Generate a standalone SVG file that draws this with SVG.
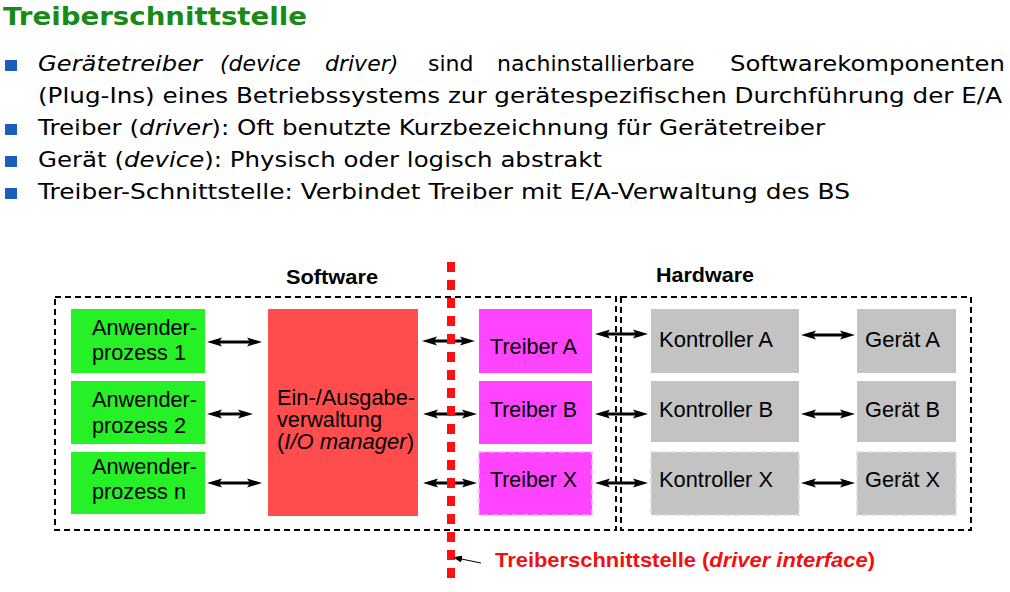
<svg xmlns="http://www.w3.org/2000/svg" width="1010" height="592" viewBox="0 0 1010 592">
<style>
.title{font-family:"DejaVu Sans",Verdana,sans-serif;font-weight:bold;font-size:24px;fill:#178a17}
.body{font-family:"DejaVu Sans",Verdana,sans-serif;font-size:22px;fill:#000}
.it{font-style:italic}
.bul{fill:#1b5dbd}
.dg{font-family:"Liberation Sans",Arial,sans-serif;font-size:21.5px;fill:#000}
.hd{font-family:"Liberation Sans",Arial,sans-serif;font-size:21px;font-weight:bold;fill:#000}
.frame{fill:none;stroke:#000;stroke-width:2;stroke-dasharray:6 4}
.app{fill:#26f026}
.io{fill:#ff4d4d}
.drv{fill:#ff44ff}
.hw{fill:#c3c3c3}
.conn line{stroke:#000;stroke-width:3}
.lbl{font-family:"Liberation Sans",Arial,sans-serif;font-size:21px;font-weight:bold;fill:#f01010}
</style>
<defs>
<marker id="ah" markerUnits="userSpaceOnUse" markerWidth="15" markerHeight="11" refX="7" refY="5.5" orient="auto-start-reverse">
<path d="M0,1 L15,5.5 L0,10 L3,5.5 z" fill="#000"/>
</marker>
<marker id="sah" markerUnits="userSpaceOnUse" markerWidth="9" markerHeight="7" refX="8" refY="3.5" orient="auto">
<path d="M0,0 L9,3.5 L0,7 z" fill="#000"/>
</marker>
</defs>
<rect width="1010" height="592" fill="#fff"/>

<text class="title" x="3" y="25" textLength="304" lengthAdjust="spacingAndGlyphs">Treiberschnittstelle</text>

<g id="bullets">
<rect class="bul" x="5" y="60" width="12" height="11"/>
<rect class="bul" x="5" y="124" width="12" height="11"/>
<rect class="bul" x="5" y="156" width="12" height="11"/>
<rect class="bul" x="5" y="188" width="12" height="11"/>
<text class="body it" x="38" y="71" textLength="164" lengthAdjust="spacingAndGlyphs">Gerätetreiber</text>
<text class="body it" x="220" y="71">(device</text>
<text class="body it" x="325" y="71">driver)</text>
<text class="body" x="428" y="71">sind</text>
<text class="body" x="497" y="71">nachinstallierbare</text>
<text class="body" x="730" y="71" textLength="275" lengthAdjust="spacingAndGlyphs">Softwarekomponenten</text>
<text class="body" x="38" y="103" textLength="964" lengthAdjust="spacingAndGlyphs">(Plug-Ins) eines Betriebssystems zur gerätespezifischen Durchführung der E/A</text>
<text class="body" x="38" y="135" textLength="787" lengthAdjust="spacingAndGlyphs">Treiber (<tspan class="it">driver</tspan>): Oft benutzte Kurzbezeichnung für Gerätetreiber</text>
<text class="body" x="38" y="167" textLength="564" lengthAdjust="spacingAndGlyphs">Gerät (<tspan class="it">device</tspan>): Physisch oder logisch abstrakt</text>
<text class="body" x="38" y="199" textLength="812" lengthAdjust="spacingAndGlyphs">Treiber-Schnittstelle: Verbindet Treiber mit E/A-Verwaltung des BS</text>
</g>

<g id="frames">
<rect class="frame" x="55" y="297" width="561" height="233"/>
<rect class="frame" x="621" y="297" width="350" height="233"/>
<text class="hd" x="286" y="284" textLength="92" lengthAdjust="spacingAndGlyphs">Software</text>
<text class="hd" x="656" y="282" textLength="98" lengthAdjust="spacingAndGlyphs">Hardware</text>
</g>

<g id="app1"><rect class="app" x="71" y="309" width="134" height="64"/>
<text class="dg" x="92" y="335" textLength="105" lengthAdjust="spacingAndGlyphs">Anwender-</text>
<text class="dg" x="92" y="360" textLength="94" lengthAdjust="spacingAndGlyphs">prozess 1</text></g>
<g id="app2"><rect class="app" x="71" y="381" width="134" height="63"/>
<text class="dg" x="92" y="407" textLength="105" lengthAdjust="spacingAndGlyphs">Anwender-</text>
<text class="dg" x="92" y="433" textLength="94" lengthAdjust="spacingAndGlyphs">prozess 2</text></g>
<g id="appn"><rect class="app" x="71" y="452" width="134" height="62"/>
<text class="dg" x="92" y="474" textLength="105" lengthAdjust="spacingAndGlyphs">Anwender-</text>
<text class="dg" x="92" y="499" textLength="94" lengthAdjust="spacingAndGlyphs">prozess n</text></g>

<g id="iomgr"><rect class="io" x="268" y="309" width="150" height="207"/>
<text class="dg" x="277" y="405" textLength="138" lengthAdjust="spacingAndGlyphs">Ein-/Ausgabe-</text>
<text class="dg" x="277" y="427" textLength="105" lengthAdjust="spacingAndGlyphs">verwaltung</text>
<text class="dg" x="277" y="449" textLength="137" lengthAdjust="spacingAndGlyphs">(<tspan class="it">I/O manager</tspan>)</text></g>

<g id="treiberA"><rect class="drv" x="479" y="309" width="113" height="64"/>
<text class="dg" x="490" y="354" textLength="87" lengthAdjust="spacingAndGlyphs">Treiber A</text></g>
<g id="treiberB"><rect class="drv" x="479" y="381" width="113" height="63"/>
<text class="dg" x="490" y="417" textLength="87" lengthAdjust="spacingAndGlyphs">Treiber B</text></g>
<g id="treiberX"><rect class="drv" x="479" y="452" width="113" height="63" stroke="#ffa8ff" stroke-width="1.5" stroke-dasharray="6 4"/>
<text class="dg" x="490" y="487" textLength="87" lengthAdjust="spacingAndGlyphs">Treiber X</text></g>

<g id="kontrollerA"><rect class="hw" x="651" y="309" width="148" height="64"/>
<text class="dg" x="659" y="347" textLength="114" lengthAdjust="spacingAndGlyphs">Kontroller A</text></g>
<g id="kontrollerB"><rect class="hw" x="651" y="381" width="148" height="61"/>
<text class="dg" x="659" y="417" textLength="114" lengthAdjust="spacingAndGlyphs">Kontroller B</text></g>
<g id="kontrollerX"><rect class="hw" x="651" y="452" width="148" height="63" stroke="#dcdcdc" stroke-width="1.5" stroke-dasharray="6 4"/>
<text class="dg" x="659" y="487" textLength="114" lengthAdjust="spacingAndGlyphs">Kontroller X</text></g>

<g id="geraetA"><rect class="hw" x="857" y="309" width="99" height="64"/>
<text class="dg" x="865" y="347" textLength="75" lengthAdjust="spacingAndGlyphs">Gerät A</text></g>
<g id="geraetB"><rect class="hw" x="857" y="381" width="99" height="61"/>
<text class="dg" x="865" y="417" textLength="75" lengthAdjust="spacingAndGlyphs">Gerät B</text></g>
<g id="geraetX"><rect class="hw" x="857" y="452" width="99" height="63" stroke="#dcdcdc" stroke-width="1.5" stroke-dasharray="6 4"/>
<text class="dg" x="865" y="487" textLength="75" lengthAdjust="spacingAndGlyphs">Gerät X</text></g>

<g id="connectors" class="conn">
<line x1="215" y1="342" x2="254" y2="342" marker-start="url(#ah)" marker-end="url(#ah)"/>
<line x1="215" y1="414" x2="245" y2="414" marker-start="url(#ah)" marker-end="url(#ah)"/>
<line x1="215" y1="483" x2="254" y2="483" marker-start="url(#ah)" marker-end="url(#ah)"/>
<line x1="430" y1="341" x2="467" y2="341" marker-start="url(#ah)" marker-end="url(#ah)"/>
<line x1="431" y1="414" x2="469" y2="414" marker-start="url(#ah)" marker-end="url(#ah)"/>
<line x1="431" y1="483" x2="469" y2="483" marker-start="url(#ah)" marker-end="url(#ah)"/>
<line x1="603" y1="334" x2="640" y2="334" marker-start="url(#ah)" marker-end="url(#ah)"/>
<line x1="603" y1="414" x2="640" y2="414" marker-start="url(#ah)" marker-end="url(#ah)"/>
<line x1="603" y1="483" x2="640" y2="483" marker-start="url(#ah)" marker-end="url(#ah)"/>
<line x1="809" y1="335" x2="847" y2="335" marker-start="url(#ah)" marker-end="url(#ah)"/>
<line x1="809" y1="414" x2="847" y2="414" marker-start="url(#ah)" marker-end="url(#ah)"/>
<line x1="809" y1="483" x2="847" y2="483" marker-start="url(#ah)" marker-end="url(#ah)"/>
</g>

<g id="interface">
<line x1="451" y1="262" x2="451" y2="586" stroke="#ff1010" stroke-width="8" stroke-dasharray="10 8"/>
<line x1="481" y1="563" x2="454" y2="557.5" stroke="#000" stroke-width="1" marker-end="url(#sah)"/>
<text class="lbl" x="495" y="567" textLength="380" lengthAdjust="spacingAndGlyphs">Treiberschnittstelle (<tspan font-style="italic">driver interface</tspan>)</text>
</g>
</svg>
